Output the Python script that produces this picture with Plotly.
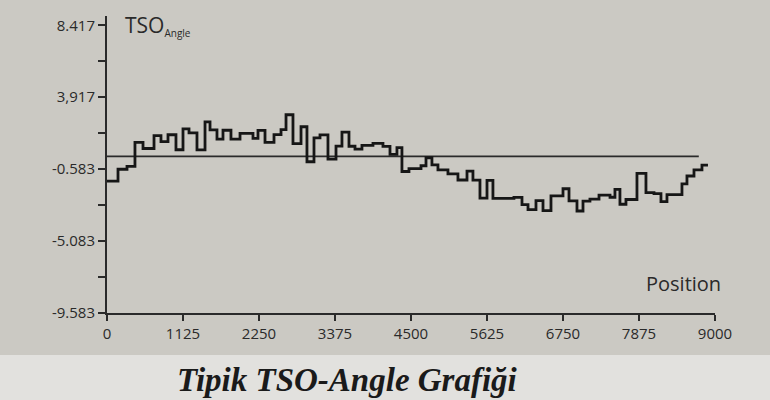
import plotly.graph_objects as go

# Step trace: start position of each step and its TSO angle value
positions = [0, 163, 296, 414, 533, 696, 799, 903, 1021, 1125, 1214, 1332, 1451, 1525,
             1628, 1717, 1835, 1969, 2161, 2235, 2339, 2472, 2576, 2650, 2753, 2872, 2960,
             3064, 3153, 3271, 3390, 3478, 3582, 3671, 3774, 3937, 4085, 4189, 4292, 4366,
             4470, 4648, 4722, 4810, 4899, 5047, 5195, 5329, 5417, 5521, 5625, 5713, 6024,
             6143, 6232, 6350, 6454, 6572, 6750, 6839, 6957, 7046, 7149, 7283, 7446, 7519,
             7593, 7682, 7845, 7978, 8097, 8200, 8289, 8511, 8585, 8689, 8807, 8896]
values = [-1.33, -0.59, -0.41, 1.09, 0.71, 1.52, 1.14, 1.57, 0.63, 1.94, 1.69, 0.62, 2.37, 1.87,
          1.30, 1.85, 1.29, 1.66, 1.34, 1.84, 1.09, 1.58, 1.89, 2.82, 1.01, 2.07, -0.12,
          1.37, 1.56, 0.05, 0.86, 1.74, 0.85, 0.67, 0.91, 1.03, 0.84, 0.34, 0.77, -0.73,
          -0.55, -0.37, 0.13, -0.31, -0.63, -0.88, -1.26, -0.71, -1.27, -2.40, -1.28, -2.41, -2.35,
          -2.80, -3.11, -2.55, -3.18, -2.25, -1.81, -2.57, -3.20, -2.58, -2.46, -2.21, -2.34, -1.85,
          -2.78, -2.48, -0.85, -2.05, -2.11, -2.61, -2.18, -1.50, -1.01, -0.63, -0.33, -0.33]

ref_x = [0, 8760]
ref_y = [0.22, 0.22]

x_ticks = [0, 1125, 2250, 3375, 4500, 5625, 6750, 7875, 9000]
y_ticks = [-9.583, -5.083, -0.583, 3.917, 8.417]
y_labels = ["-9.583", "-5.083", "-0.583", "3,917", "8.417"]
y_minor = [-7.333, -2.833, 1.667, 6.167]

ink = "#2a2a2a"
font = "Open Sans"

fig = go.Figure()
fig.add_trace(go.Scatter(x=ref_x, y=ref_y, mode="lines",
                         line=dict(color=ink, width=1.6), hoverinfo="skip"))
fig.add_trace(go.Scatter(x=positions, y=values, mode="lines", line_shape="hv",
                         line=dict(color="#161616", width=2.8)))

fig.update_layout(
    width=770, height=400,
    margin=dict(l=107, r=55, t=16, b=87),
    paper_bgcolor="#cbc9c3", plot_bgcolor="rgba(0,0,0,0)",
    showlegend=False,
    font=dict(family=font, color=ink, size=14),
    xaxis=dict(range=[0, 9000], tickvals=x_ticks, ticktext=[str(v) for v in x_ticks],
               showgrid=False, zeroline=False, showline=True, linecolor=ink, linewidth=2,
               ticks="outside", ticklen=6, tickwidth=2, tickcolor=ink, automargin=False,
               tickfont=dict(family=font, size=15, color=ink)),
    yaxis=dict(range=[-9.583, 9.0], tickvals=y_ticks, ticktext=y_labels,
               showgrid=False, zeroline=False, showline=True, linecolor=ink, linewidth=2,
               ticks="outside", ticklen=7, tickwidth=2, tickcolor=ink, automargin=False,
               minor=dict(tickvals=y_minor, ticks="outside", ticklen=7, tickwidth=2,
                          tickcolor=ink, showgrid=False),
               tickfont=dict(family=font, size=15, color=ink)),
    shapes=[dict(type="rect", xref="paper", yref="paper", x0=-0.2, x1=1.1,
                 y0=-0.3, y1=-0.141, fillcolor="#e2e1de", line=dict(width=0), layer="below")],
    annotations=[
        dict(text="TSO<sub><span style='font-size:10px'>Angle</span></sub>",
             xref="paper", yref="paper", x=0.026, y=0.968,
             xanchor="left", yanchor="middle", showarrow=False,
             font=dict(family=font, size=21, color=ink)),
        dict(text="Position", xref="paper", yref="paper", x=1.013, y=0.101,
             xanchor="right", yanchor="middle", showarrow=False,
             font=dict(family=font, size=20, color=ink)),
        dict(text="<b><i>Tipik TSO-Angle Grafiği</i></b>", xref="paper", yref="paper",
             x=0.396, y=-0.226, xanchor="center", yanchor="middle", showarrow=False,
             font=dict(family="Liberation Serif", size=33, color="#1a1a1a")),
    ],
)

fig.write_html("out.html", config={"displayModeBar": False},
               post_script="document.body.style.margin='0';")
